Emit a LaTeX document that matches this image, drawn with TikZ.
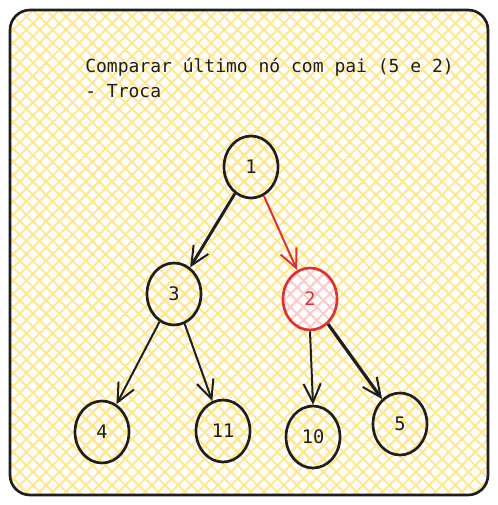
\documentclass[tikz,border=0pt]{standalone}
\usepackage{fontspec}
\setmonofont{DejaVu Sans Mono}
\usetikzlibrary{shapes.geometric,arrows.meta,patterns.meta}
\definecolor{ink}{HTML}{1E1E1E}
\definecolor{hatch}{HTML}{FFE68F}
\definecolor{redink}{HTML}{E03131}
\definecolor{pinkhatch}{HTML}{FFC9C9}
\begin{document}
\begin{tikzpicture}[x=0.75pt,y=-0.75pt,
  yellowfill/.style={preaction={pattern={Lines[angle=45,distance=7pt,line width=1.5pt]},pattern color=hatch},
    pattern={Lines[angle=-45,distance=7pt,line width=1.5pt]},pattern color=hatch},
  pinkfill/.style={preaction={fill=white},preaction={pattern={Lines[angle=45,distance=7pt,line width=1.5pt]},pattern color=pinkhatch},
    pattern={Lines[angle=-45,distance=7pt,line width=1.5pt]},pattern color=pinkhatch},
  vertex/.style={ellipse,draw=ink,line width=2pt,minimum width=40.5pt,minimum height=46.5pt,inner sep=0pt,
    yellowfill,font=\ttfamily\fontsize{14}{16}\selectfont,text=ink},
  edge/.style={draw=ink,line width=1.5pt,-{Straight Barb[length=14pt,width=13pt,line width=1.5pt]}},
  title/.style={anchor=base west,inner sep=0pt,font=\ttfamily\fontsize{13.5}{18.75}\selectfont,text=ink}]
\useasboundingbox (0,0) rectangle (497,505);
\draw [ink,line width=2pt,rounded corners=15pt,yellowfill] (10,10) rectangle (488,495);
\node [title] (line1) at (85,73) {Comparar último nó com pai (5 e 2)};
\node [title] (line2) at (85,98) {- Troca};
\node [vertex] (n1) at (251,167) {1};
\node [vertex] (n3) at (174,294) {3};
\node [vertex,draw=redink,text=redink,pinkfill] (n2) at (310,299) {2};
\node [vertex] (n4) at (102,432) {4};
\node [vertex] (n11) at (223,431) {11};
\node [vertex] (n10) at (313,437) {10};
\node [vertex] (n5) at (400,424) {5};
\draw [edge,line width=2.2pt] (n1) -- (n3);
\draw [edge,draw=redink] (n1) -- (n2);
\draw [edge] (n3) -- (n4);
\draw [edge] (n3) -- (n11);
\draw [edge] (n2.south) -- (n10.north);
\draw [edge,line width=2.4pt] (n2) -- (n5);
\end{tikzpicture}
\end{document}
